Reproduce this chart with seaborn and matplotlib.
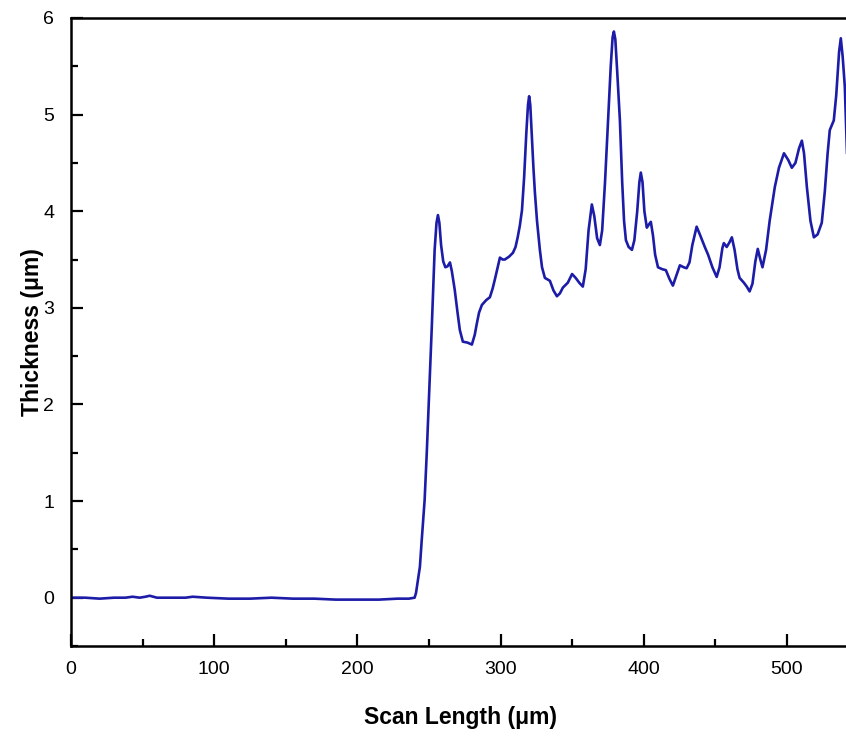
import numpy as np
import pandas as pd
import matplotlib
matplotlib.use("Agg")
import matplotlib.pyplot as plt
import seaborn as sns
from matplotlib.ticker import MultipleLocator, FixedLocator

# profile (scan length in um, thickness in um)
scan_length = [0, 10, 20, 30, 38, 43, 48, 52, 55, 60, 70, 80, 85, 95, 110, 125, 140,
               155, 170, 185, 200, 215, 228, 236, 240,
               241, 242.5, 243.7, 245, 247, 248.5, 250, 251, 252, 253, 254, 255.3,
               256.3, 257.3, 258.5, 260, 261.5, 263, 264.7, 266, 268, 270, 271.6,
               273.7, 277, 280, 282, 283.5, 285, 287, 290, 292.6, 294.5, 296, 298,
               299.6, 301.5, 303, 306, 308.7, 310.5, 312, 313.5, 315, 316.5, 318,
               319.2, 320, 320.8, 322, 323, 324, 325.5, 327.5, 329, 331, 334.5, 337,
               339.4, 341.5, 343.6, 347, 350, 352.5, 355, 357.5, 359.5, 361.5, 363.8,
               365.5, 367.5, 369.4, 371, 373, 375, 377, 378.3, 379.2, 380.2, 381.5,
               383.4, 385, 386.3, 387.6, 389.5, 391.8, 393.5, 395.5, 397, 398, 399.2,
               400.5, 402.2, 403.5, 405, 406.5, 408, 410, 413, 415.5, 418, 420.4,
               422.5, 425.3, 428, 430, 432, 434, 437, 439.5, 442.7, 445, 448, 451,
               453, 455, 456, 458, 460, 461.6, 463.5, 465.5, 467, 470, 472, 474, 476,
               478, 479.7, 481.5, 483, 485.5, 488, 491.6, 494.5, 498, 501, 503.5, 506,
               508.5, 510.5, 512, 514, 516.5, 518.9, 521.5, 524.4, 526.5, 528.5, 530,
               532.8, 534.5, 536.5, 537.7, 539, 540.5, 542, 544]
thickness = [0.0, 0.0, -0.01, 0.0, 0.0, 0.01, 0.0, 0.01, 0.02, 0.0, 0.0, 0.0, 0.01,
             0.0, -0.01, -0.01, 0.0, -0.01, -0.01, -0.02, -0.02, -0.02, -0.01, -0.01, 0.0,
             0.05, 0.2, 0.32, 0.6, 1.01, 1.5, 2.05, 2.4, 2.8, 3.2, 3.6, 3.88,
             3.96, 3.88, 3.65, 3.48, 3.42, 3.43, 3.47, 3.38, 3.19, 2.95, 2.77,
             2.65, 2.64, 2.62, 2.72, 2.84, 2.95, 3.03, 3.08, 3.11, 3.2, 3.29, 3.42,
             3.52, 3.50, 3.50, 3.53, 3.57, 3.63, 3.73, 3.85, 4.01, 4.35, 4.8,
             5.1, 5.19, 5.1, 4.75, 4.45, 4.2, 3.9, 3.6, 3.42, 3.31, 3.28, 3.18,
             3.12, 3.15, 3.21, 3.26, 3.35, 3.31, 3.26, 3.22, 3.4, 3.8, 4.07,
             3.95, 3.72, 3.65, 3.8, 4.3, 4.9, 5.5, 5.8, 5.86, 5.78, 5.45,
             4.94, 4.3, 3.9, 3.70, 3.63, 3.60, 3.7, 4.0, 4.3, 4.40, 4.3,
             4.0, 3.83, 3.86, 3.89, 3.75, 3.55, 3.42, 3.40, 3.39, 3.30, 3.23,
             3.32, 3.44, 3.42, 3.41, 3.47, 3.65, 3.84, 3.75, 3.63, 3.55, 3.42, 3.32,
             3.42, 3.62, 3.67, 3.63, 3.68, 3.73, 3.6, 3.4, 3.31, 3.26, 3.22, 3.17, 3.25,
             3.48, 3.61, 3.5, 3.42, 3.6, 3.9, 4.25, 4.45, 4.60, 4.53, 4.45, 4.5,
             4.65, 4.73, 4.6, 4.25, 3.9, 3.73, 3.76, 3.88, 4.2, 4.6, 4.84,
             4.94, 5.2, 5.65, 5.79, 5.6, 5.29, 4.6, 4.2]

x_ticks = [0, 100, 200, 300, 400, 500]

df = pd.DataFrame({"scan": scan_length, "thick": thickness})

sns.set_style("ticks")
plt.rcParams["font.family"] = ["Liberation Sans", "DejaVu Sans"]

fig = plt.figure(figsize=(8.46, 7.4), dpi=100)
# axes runs past the right edge, like the cropped original
ax = fig.add_axes([71 / 846, 1 - 646 / 740, 859 / 846, 628 / 740])

sns.lineplot(data=df, x="scan", y="thick", ax=ax, color="#1c1ca8",
             linewidth=1.9, sort=False, estimator=None)

ax.set_xlim(0, 600)
ax.set_ylim(-0.5, 6)
ax.xaxis.set_major_locator(FixedLocator(x_ticks))
ax.xaxis.set_minor_locator(FixedLocator([50, 150, 250, 350, 450, 550]))
ax.yaxis.set_major_locator(MultipleLocator(1))
ax.yaxis.set_minor_locator(MultipleLocator(0.5))
ax.tick_params(which="both", direction="in", width=1.6, colors="black",
               labelsize=14, top=False, right=False)
ax.tick_params(which="major", length=8.5)
ax.tick_params(which="minor", length=5)
ax.tick_params(axis="x", which="major", pad=11)
ax.tick_params(axis="y", which="major", pad=12)
for s in ax.spines.values():
    s.set_linewidth(1.8)
    s.set_color("black")

ax.set_xlabel("Scan Length (μm)", fontsize=16.5, fontweight="bold", color="black")
ax.set_ylabel("Thickness (μm)", fontsize=16.5, fontweight="bold", color="black")
ax.xaxis.set_label_coords((460 - 71) / 859, -0.095)
ax.yaxis.set_label_coords(-0.032, 0.5)

fig.savefig("out.png", dpi=100)
